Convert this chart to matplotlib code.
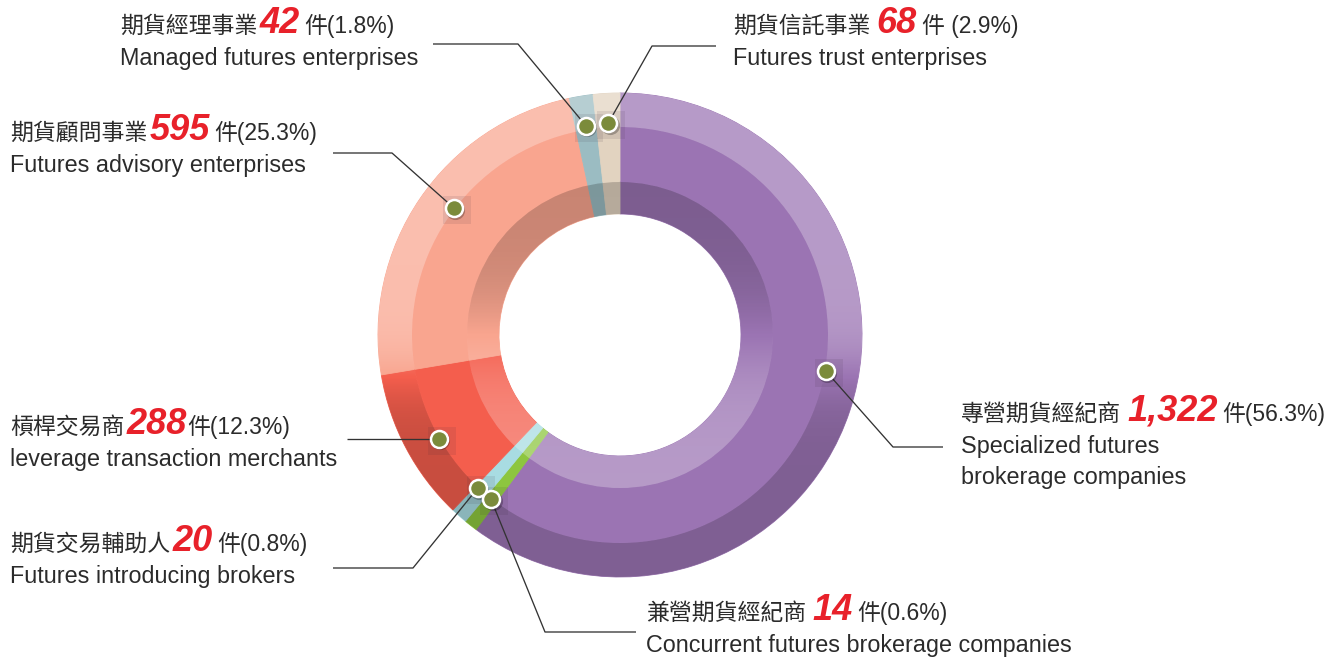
import numpy as np
import matplotlib.pyplot as plt
from matplotlib.patches import Wedge

# 資料
names_zh = ['專營期貨經紀商', '兼營期貨經紀商', '期貨交易輔助人', '槓桿交易商',
            '期貨顧問事業', '期貨經理事業', '期貨信託事業']
names_en = ['Specialized futures\nbrokerage companies',
            'Concurrent futures brokerage companies',
            'Futures introducing brokers',
            'leverage transaction merchants',
            'Futures advisory enterprises',
            'Managed futures enterprises',
            'Futures trust enterprises']
counts = [1322, 14, 20, 288, 595, 42, 68]
percents = [56.3, 0.6, 0.8, 12.3, 25.3, 1.8, 2.9]
# ring size as drawn in the original (degrees, small slices widened)
ring_deg = [216.5, 3.2, 4.0, 36.8, 87.4, 5.7, 6.4]

colors = ['#9b74b3', '#8dc63f', '#a8dce2', '#f45e4d', '#f9a58f', '#9bbcc2', '#e2d3c0']

# layout (pixels, measured from top-left)
W, H = 1342, 657
label_x = [961, 646, 10, 10, 10, 120, 733]
label_base = [421, 620, 551, 434, 140, 33, 33]
gap_num = [6, 6, 2, 2, 2, 2, 6]
gap_pct = [5, 5, 5, 1, 5, 5, 5]
pct_sep = ['', '', '', '', '', '', ' ']
mk_shift = [8.3, 0, -1.2, 1.9, -3.2, 0, 0]   # marker offset from slice middle (deg)
mk_rad = [209, 209, 209, 209, 209, 212, 212]
elbow = [(893, 447), (545, 632), (413, 568), None, (392, 153), (518, 44), (652, 46)]
line_end = [(943, 447), (636, 632), (333, 568), (347, None), (333, 153), (433, 44), (716, 46)]

ZH = ['Noto Sans CJK TC', 'DejaVu Sans']
MIX = ['Liberation Sans', 'Noto Sans CJK TC']
TXT = '#2b2b2b'
RED = '#e8212a'


def Y(y):
    return H - y


fig = plt.figure(figsize=(W / 100, H / 100), dpi=100)
ax = fig.add_axes([0, 0, 1, 1])

cx, cy = 620, Y(335)
R_out, R_mid, R_in, R_hole = 242, 208, 153, 121

# 三層圓環
wedges = None
for r, w in [(R_out, R_out - R_mid), (R_mid, R_mid - R_in), (R_in, R_in - R_hole)]:
    ws, _ = ax.pie(ring_deg, radius=r, center=(cx, cy), startangle=90,
                   counterclock=False, colors=colors,
                   wedgeprops=dict(width=w, linewidth=0.6))
    for wd in ws:
        wd.set_edgecolor(wd.get_facecolor())
    if wedges is None:
        wedges = ws

ax.set_xlim(0, W)
ax.set_ylim(0, H)
ax.set_aspect('auto')
ax.axis('off')

# 光影漸層: 外圈上亮下暗, 內圈上暗下亮
ys = np.linspace(cy - R_out, cy + R_out, 700)


def shade(t, light, dark):
    img = np.zeros((len(t), 2, 4))
    up = t > 0
    img[up, :, :3] = 1.0
    img[:, :, 3] = np.where(up, light * t, dark * -t)[:, None]
    return img


t_out = np.tanh((ys - (cy - 42)) / 38)
t_in = -np.tanh((ys - cy) / 60)
for t, r, w, lt, dk in [(t_out, R_out, R_out - R_mid, 0.28, 0.18),
                        (t_in, R_in, R_in - R_hole, 0.28, 0.2)]:
    im = ax.imshow(shade(t, lt, dk), origin='lower', aspect='auto',
                   extent=(cx - R_out, cx + R_out, cy - R_out, cy + R_out),
                   interpolation='bilinear', zorder=2)
    im.set_clip_path(Wedge((cx, cy), r, 0, 360, width=w, transform=ax.transData))

# 標記點位置
mk = []
for i, wd in enumerate(wedges):
    a = np.deg2rad((wd.theta1 + wd.theta2) / 2 + mk_shift[i])
    mk.append((cx + mk_rad[i] * np.cos(a), cy + mk_rad[i] * np.sin(a)))

# 引線
for i, (mx, my) in enumerate(mk):
    ex, ey = line_end[i]
    if elbow[i] is None:
        xs, yy = [mx, ex], [my, my]
    else:
        xs = [mx, elbow[i][0], ex]
        yy = [my, Y(elbow[i][1]), Y(ey)]
    ax.plot(xs, yy, color='#333333', lw=0.95, zorder=3, solid_capstyle='butt')

mxs = [p[0] for p in mk]
mys = [p[1] for p in mk]
ax.scatter([x + 3 for x in mxs], [y - 2 for y in mys], marker='s', s=400,
           color='#3a2a3a', alpha=0.1, linewidths=0, zorder=4)
ax.scatter([x + 1.5 for x in mxs], [y - 1.5 for y in mys], s=190,
           color='#000000', alpha=0.25, linewidths=0, zorder=5)
ax.scatter(mxs, mys, s=150, facecolor='#7b8b3b', edgecolor='white',
           linewidths=1.8, zorder=6)

# 文字標籤
fig.canvas.draw()
rend = fig.canvas.get_renderer()
for i in range(len(names_zh)):
    x0 = label_x[i]
    b = Y(label_base[i])
    t1 = ax.text(x0, b, names_zh[i], family=ZH, fontsize=16.5, color=TXT,
                 va='baseline', ha='left')
    x1 = t1.get_window_extent(rend).x1 + gap_num[i]
    t2 = ax.text(x1, b, f'{counts[i]:,}', family='Liberation Sans',
                 fontsize=26, weight='bold', style='italic', color=RED,
                 va='baseline', ha='left')
    x2 = t2.get_window_extent(rend).x1 + gap_pct[i]
    ax.text(x2, b, f'件{pct_sep[i]}({percents[i]}%)', family=MIX,
            fontsize=16.5, color=TXT, va='baseline', ha='left')
    for k, line in enumerate(names_en[i].split('\n')):
        ax.text(x0, b - 32 - 31 * k, line, family='Liberation Sans',
                fontsize=16.8, color=TXT, va='baseline', ha='left')

fig.savefig('out.png', dpi=100)
